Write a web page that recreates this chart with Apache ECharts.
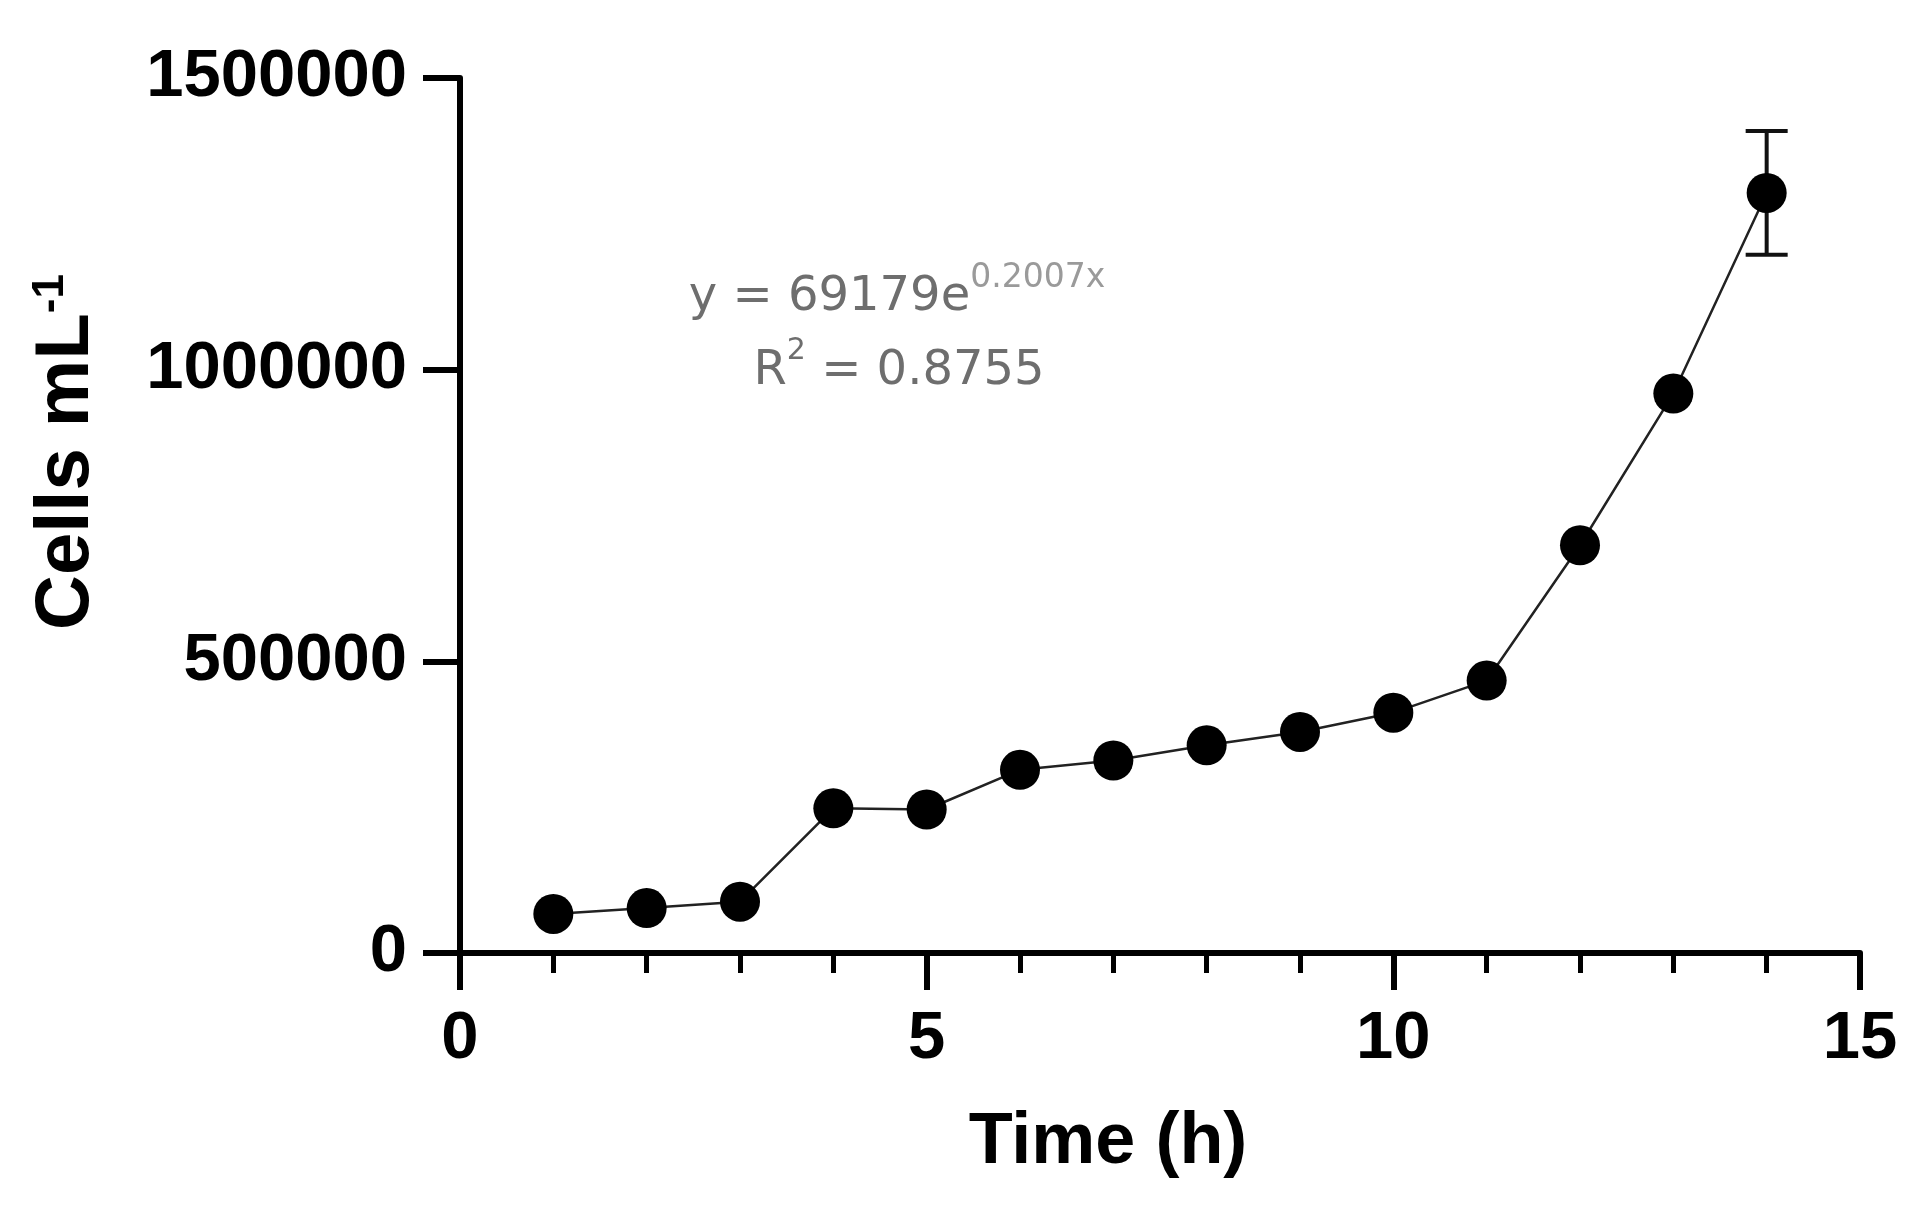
<!DOCTYPE html>
<html>
<head>
<meta charset="utf-8">
<title>Cells mL-1 vs time</title>
<style>
    html, body { margin: 0; padding: 0; background: #fff; }
    #main { width: 1910px; height: 1216px; }
</style>
</head>
<body>
<div id="main"></div>
<script src="https://cdn.jsdelivr.net/npm/echarts@6/dist/echarts.min.js"></script>
<script>
    // data
    var hours = [1, 2, 3, 4, 5, 6, 7, 8, 9, 10, 11, 12, 13, 14];
    var cells = [67000, 77000, 88000, 248000, 246000, 314000, 330000, 356000, 379000, 412000, 467000, 699000, 959000, 1303000];
    var cellsErr = [0, 0, 0, 0, 0, 0, 0, 0, 0, 0, 0, 0, 0, 106000];
    var fitText = ['y = 69179e', '0.2007x', 'R', '2', ' = 0.8755'];

    var points = [];
    var bars = [];
    for (var i = 0; i < hours.length; i++) {
        points.push([hours[i], cells[i]]);
        if (cellsErr[i] > 0) {
            bars.push([hours[i], cells[i] - cellsErr[i], cells[i] + cellsErr[i]]);
        }
    }

    var font = '"Liberation Sans", Arial, sans-serif';
    var fitFont = '"DejaVu Sans", sans-serif';

    var myChart = echarts.init(document.getElementById('main'));
    myChart.setOption({
        animation: false,
        backgroundColor: '#fff',
        grid: {
            left: 460,
            right: 50,
            top: 78,
            bottom: 263,
            containLabel: false
        },
        xAxis: {
            type: 'value',
            min: 0,
            max: 15,
            interval: 5,
            axisLine: { lineStyle: { color: '#000', width: 6 } },
            axisTick: { length: 37, lineStyle: { color: '#000', width: 6 } },
            minorTick: { show: true, splitNumber: 5, length: 20, lineStyle: { color: '#000', width: 5 } },
            splitLine: { show: false },
            axisLabel: { color: '#000', fontSize: 67, fontWeight: 'bold', fontFamily: font, margin: 53 }
        },
        yAxis: {
            type: 'value',
            min: 0,
            max: 1500000,
            interval: 500000,
            axisLine: { show: true, lineStyle: { color: '#000', width: 6 } },
            axisTick: { show: true, length: 37, lineStyle: { color: '#000', width: 6 } },
            splitLine: { show: false },
            axisLabel: {
                color: '#000', fontSize: 67, fontWeight: 'bold', fontFamily: font, margin: 53,
                formatter: function (v) { return String(v); }
            }
        },
        graphic: [
            {
                type: 'text',
                x: 67,
                y: 452,
                rotation: Math.PI / 2,
                style: {
                    text: '{m|Cells mL}{s|-1}',
                    align: 'center',
                    verticalAlign: 'middle',
                    rich: {
                        m: { fontSize: 76, fontWeight: 'bold', fontFamily: font, fill: '#000' },
                        s: { fontSize: 44, fontWeight: 'bold', fontFamily: font, fill: '#000', verticalAlign: 'top' }
                    }
                }
            },
            {
                type: 'text',
                x: 1108,
                y: 1143,
                style: {
                    text: 'Time (h)',
                    align: 'center',
                    verticalAlign: 'middle',
                    fontSize: 72,
                    fontWeight: 'bold',
                    fontFamily: font,
                    fill: '#000'
                }
            },
            {
                type: 'text',
                x: 897,
                y: 298,
                style: {
                    text: '{m|' + fitText[0] + '}{s|' + fitText[1] + '}',
                    align: 'center',
                    verticalAlign: 'middle',
                    rich: {
                        m: { fontSize: 48, lineHeight: 72, fontFamily: fitFont, fill: '#6e6e6e' },
                        s: { fontSize: 33, fontFamily: fitFont, fill: '#9a9a9a', verticalAlign: 'top' }
                    }
                }
            },
            {
                type: 'text',
                x: 899,
                y: 372,
                style: {
                    text: '{m|' + fitText[2] + '}{s|' + fitText[3] + '}{m|' + fitText[4] + '}',
                    align: 'center',
                    verticalAlign: 'middle',
                    rich: {
                        m: { fontSize: 48, lineHeight: 72, fontFamily: fitFont, fill: '#6e6e6e' },
                        s: { fontSize: 30, fontFamily: fitFont, fill: '#6e6e6e', verticalAlign: 'top' }
                    }
                }
            }
        ],
        series: [
            {
                name: 'sd',
                type: 'custom',
                z: 1,
                encode: { x: 0, y: [1, 2] },
                data: bars,
                renderItem: function (params, api) {
                    var x = api.value(0);
                    var lo = api.coord([x, api.value(1)]);
                    var hi = api.coord([x, api.value(2)]);
                    var cap = 21;
                    var st = { stroke: '#111', lineWidth: 4 };
                    return {
                        type: 'group',
                        children: [
                            { type: 'line', shape: { x1: lo[0], y1: lo[1], x2: hi[0], y2: hi[1] }, style: st },
                            { type: 'line', shape: { x1: lo[0] - cap, y1: lo[1], x2: lo[0] + cap, y2: lo[1] }, style: st },
                            { type: 'line', shape: { x1: hi[0] - cap, y1: hi[1], x2: hi[0] + cap, y2: hi[1] }, style: st }
                        ]
                    };
                }
            },
            {
                name: 'Cells',
                type: 'line',
                z: 2,
                data: points,
                symbol: 'circle',
                symbolSize: 40,
                itemStyle: { color: '#000' },
                lineStyle: { color: '#222', width: 2.5 }
            }
        ]
    });
</script>
</body>
</html>
